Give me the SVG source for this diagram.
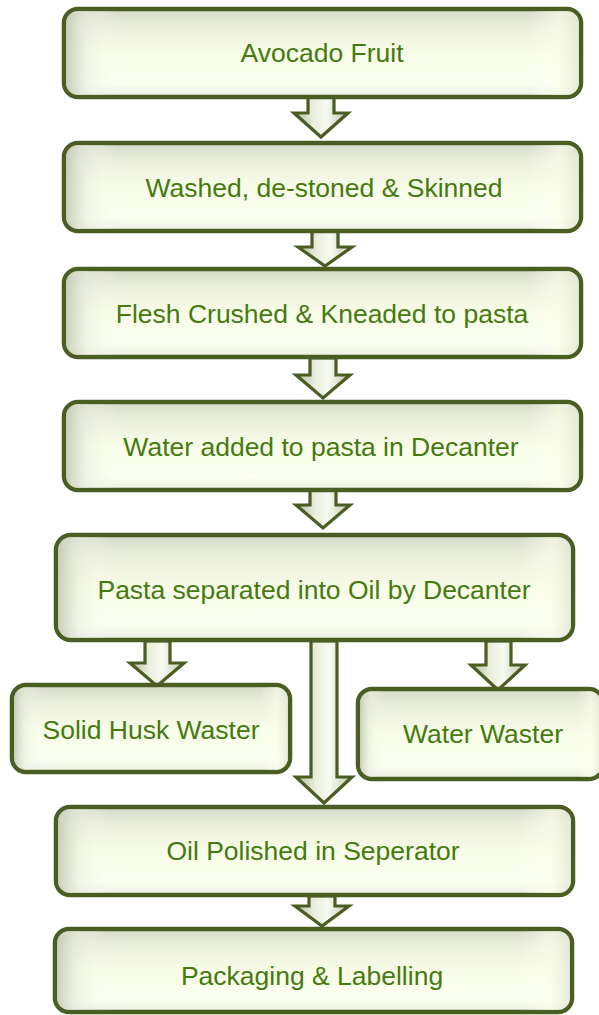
<svg xmlns="http://www.w3.org/2000/svg" width="599" height="1015" viewBox="0 0 599 1015">
<defs>
<linearGradient id="gv" x1="0" y1="0" x2="0" y2="1">
<stop offset="0" stop-color="#d6dac8"/>
<stop offset="0.2" stop-color="#eaeedc"/>
<stop offset="0.5" stop-color="#f8fde8"/>
<stop offset="0.85" stop-color="#fafff0"/>
<stop offset="1" stop-color="#eceFe2"/>
</linearGradient>
<linearGradient id="gh" x1="0" y1="0" x2="1" y2="0">
<stop offset="0" stop-color="#c4c9b5" stop-opacity="0.9"/>
<stop offset="0.04" stop-color="#e6eada" stop-opacity="0.5"/>
<stop offset="0.1" stop-color="#ffffff" stop-opacity="0"/>
<stop offset="0.9" stop-color="#ffffff" stop-opacity="0"/>
<stop offset="0.96" stop-color="#fbffe8" stop-opacity="0.6"/>
<stop offset="1" stop-color="#e2e6d6" stop-opacity="0.8"/>
</linearGradient>
<linearGradient id="ga" x1="0" y1="0" x2="1" y2="0">
<stop offset="0" stop-color="#b2b99e"/>
<stop offset="0.35" stop-color="#eaeedd"/>
<stop offset="0.6" stop-color="#f7faef"/>
<stop offset="1" stop-color="#bfc6ab"/>
</linearGradient>
<style>
.bx{fill:url(#gv);stroke:#4a5e24;stroke-width:4.5}
.ov{fill:url(#gh);stroke:none}
.ar{fill:url(#ga);stroke:#4a5e24;stroke-width:3.2;stroke-linejoin:miter}
.t{font-family:"Liberation Sans",Arial,sans-serif;font-size:26.5px;fill:#467a10;text-anchor:middle}
</style>
</defs>
<g id="connectors">
<polygon class="ar" points="308,97 334,97 334,113 348,113 321,137 294,113 308,113"/>
<polygon class="ar" points="312,231 338,231 338,247 352,247 325,266 298,247 312,247"/>
<polygon class="ar" points="310,358 336,358 336,375 350,375 323,398 296,375 310,375"/>
<polygon class="ar" points="310,490 336,490 336,505 350,505 323,528 296,505 310,505"/>
<polygon class="ar" points="145,641 170,641 170,663 184,663 157,686 130,663 145,663"/>
<polygon class="ar" points="486,641 511,641 511,665 525,665 498,690 471,665 486,665"/>
<polygon class="ar" points="311,641 337,641 337,777 352,777 324,803 296,777 311,777"/>
<polygon class="ar" points="309,896 335,896 335,906 349,906 322,926 295,906 309,906"/>
</g>
<g id="n1"><rect class="bx" x="64" y="9" width="517" height="88" rx="14"/><rect class="ov" x="66" y="11" width="513" height="84" rx="12"/><text class="t" x="322" y="62">Avocado Fruit</text></g>
<g id="n2"><rect class="bx" x="64" y="143" width="517" height="88" rx="14"/><rect class="ov" x="66" y="145" width="513" height="84" rx="12"/><text class="t" x="324" y="197">Washed, de-stoned &amp; Skinned</text></g>
<g id="n3"><rect class="bx" x="64" y="269" width="517" height="88" rx="14"/><rect class="ov" x="66" y="271" width="513" height="84" rx="12"/><text class="t" x="322" y="323">Flesh Crushed &amp; Kneaded to pasta</text></g>
<g id="n4"><rect class="bx" x="64" y="402" width="517" height="88" rx="14"/><rect class="ov" x="66" y="404" width="513" height="84" rx="12"/><text class="t" x="321" y="456">Water added to pasta in Decanter</text></g>
<g id="n5"><rect class="bx" x="56" y="535" width="517" height="105" rx="15"/><rect class="ov" x="58" y="537" width="513" height="101" rx="13"/><text class="t" x="314" y="599">Pasta separated into Oil by Decanter</text></g>
<g id="n6"><rect class="bx" x="12" y="685" width="278" height="87" rx="14"/><rect class="ov" x="14" y="687" width="274" height="83" rx="12"/><text class="t" x="151" y="739">Solid Husk Waster</text></g>
<g id="n7"><rect class="bx" x="358" y="689" width="245" height="90" rx="14"/><rect class="ov" x="360" y="691" width="241" height="86" rx="12"/><text class="t" x="483" y="743">Water Waster</text></g>
<g id="n8"><rect class="bx" x="56" y="807" width="517" height="88" rx="14"/><rect class="ov" x="58" y="809" width="513" height="84" rx="12"/><text class="t" x="313" y="860">Oil Polished in Seperator</text></g>
<g id="n9"><rect class="bx" x="55" y="929" width="517" height="83" rx="14"/><rect class="ov" x="57" y="931" width="513" height="79" rx="12"/><text class="t" x="312" y="985">Packaging &amp; Labelling</text></g>
</svg>
